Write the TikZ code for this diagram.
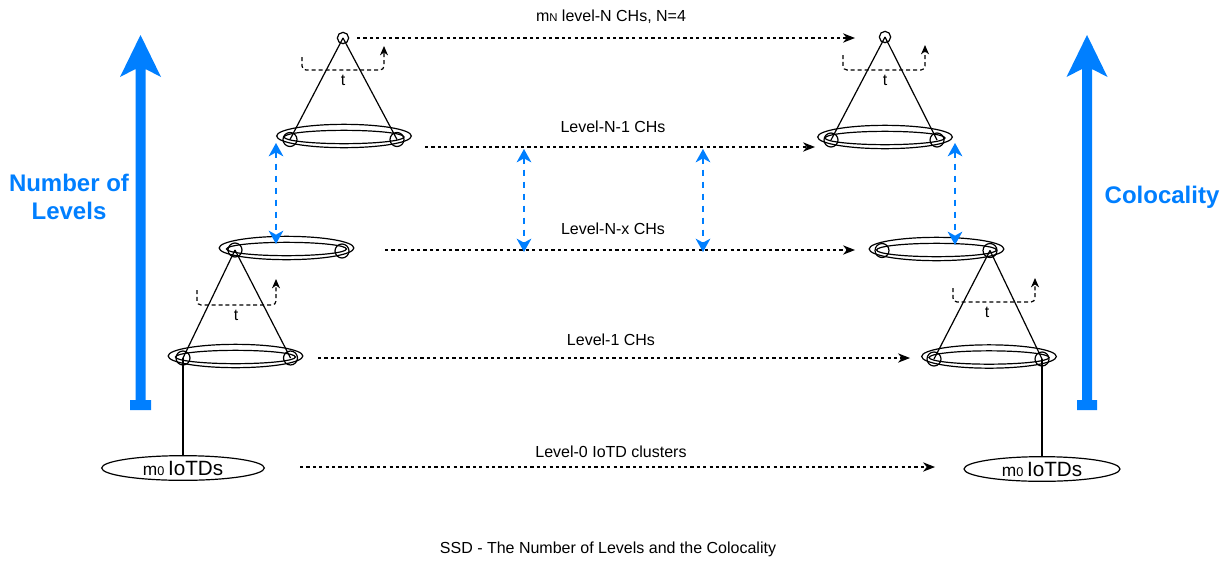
\documentclass[tikz,border=0pt]{standalone}
\usepackage{fontspec}
\setmainfont{Liberation Sans}
\usetikzlibrary{arrows.meta,shapes.geometric}
\definecolor{azure}{HTML}{007FFF}

\begin{document}
\begin{tikzpicture}[x=0.75pt,y=-0.75pt,
  lbl/.style={font=\fontsize{12}{14}\selectfont, inner sep=0pt},
  side/.style={font=\fontsize{18}{21}\selectfont\bfseries, text=azure, align=center, inner sep=0pt},
  dot/.style={circle,draw,line width=0.9pt,minimum size=8.5pt,inner sep=0pt},
  knot/.style={circle,draw,line width=0.9pt,minimum size=10.5pt,inner sep=0pt},
  ring/.style={ellipse,draw,line width=0.9pt,minimum width=101pt,minimum height=17.5pt,inner sep=0pt},
  inring/.style={ellipse,draw,line width=0.9pt,minimum width=90pt,minimum height=10pt,inner sep=0pt},
  pool/.style={ellipse,draw,line width=0.9pt,minimum height=18.5pt,inner sep=0pt},
  spoke/.style={line width=0.9pt},
  flow/.style={line width=0.9pt,dash pattern=on 2.4pt off 2.4pt,-{Stealth[length=9pt,width=7pt,inset=2.8pt]}},
  tloop/.style={line width=0.9pt,dash pattern=on 3pt off 2.2pt,rounded corners=3pt,-{Stealth[length=7pt,width=6pt,inset=2.2pt]}},
  link/.style={azure,line width=1.5pt,dash pattern=on 4.5pt off 4.5pt,{Stealth[length=10pt,width=11pt,inset=3pt]}-{Stealth[length=10pt,width=11pt,inset=3pt]}},
]
\fill[white] (0,0) rectangle (1230,561);
\useasboundingbox (0,0) rectangle (1230,561);

% ---------- big side arrows ----------
\fill[azure] (140.5,35) -- (161,77) -- (145.5,69) -- (145.5,400) -- (151,400) -- (151,410)
  -- (130,410) -- (130,400) -- (135.5,400) -- (135.5,69) -- (120,77) -- cycle;
\fill[azure] (1087,35) -- (1107.5,77) -- (1092,69) -- (1092,400) -- (1097,400) -- (1097,410)
  -- (1077,410) -- (1077,400) -- (1082,400) -- (1082,69) -- (1066.5,77) -- cycle;
\node[side] (levels) at (69,197) {Number of\\Levels};
\node[side] (coloc) at (1162,197) {Colocality};

% ---------- left column ----------
\node[ring]   (rL1) at (344,136) {};
\node[inring] (iL1) at (344,137) {};
\node[knot]   (kL1a) at (290,139.5) {};
\node[knot]   (kL1b) at (397,139.5) {};
\node[dot]    (aL)   at (343,38) {};
\draw[spoke] (aL.center) -- (kL1a.center);
\draw[spoke] (aL.center) -- (kL1b.center);

\node[ring]   (rLx) at (286.5,248) {};
\node[inring] (iLx) at (286.5,249) {};
\node[knot]   (kLxa) at (235,250) {};
\node[knot]   (kLxb) at (342,251) {};

\node[ring]   (rLa) at (235.5,356) {};
\node[inring] (iLa) at (235.5,357) {};
\node[knot]   (kLaa) at (183,358) {};
\node[knot]   (kLab) at (290.5,358) {};
\draw[spoke] (kLxa.center) -- (kLaa.center);
\draw[spoke] (kLxa.center) -- (kLab.center);

\node[pool, minimum width=122pt] (poolL) at (183,468)
  {{\fontsize{13}{14}\selectfont m\fontsize{9.5}{10}\selectfont 0} {\fontsize{15.5}{17}\selectfont IoTDs}};
\draw[spoke] (kLaa.center) -- (kLaa.center |- poolL.north);

% ---------- right column ----------
\node[ring]   (rR1) at (885,137) {};
\node[inring] (iR1) at (885,138) {};
\node[knot]   (kR1a) at (831,140) {};
\node[knot]   (kR1b) at (937,140) {};
\node[dot]    (aR)   at (885,37) {};
\draw[spoke] (aR.center) -- (kR1a.center);
\draw[spoke] (aR.center) -- (kR1b.center);

\node[ring]   (rRx) at (936.5,249) {};
\node[inring] (iRx) at (936.5,250) {};
\node[knot]   (kRxa) at (882,250.5) {};
\node[knot]   (kRxb) at (990,250.5) {};

\node[ring]   (rRa) at (989,356.5) {};
\node[inring] (iRa) at (989,357.5) {};
\node[knot]   (kRaa) at (934,359) {};
\node[knot]   (kRab) at (1042,359) {};
\draw[spoke] (kRxb.center) -- (kRaa.center);
\draw[spoke] (kRxb.center) -- (kRab.center);

\node[pool, minimum width=117pt] (poolR) at (1042,469)
  {{\fontsize{13}{14}\selectfont m\fontsize{9.5}{10}\selectfont 0} {\fontsize{15.5}{17}\selectfont IoTDs}};
\draw[spoke] (kRab.center) -- (kRab.center |- poolR.north);

% ---------- rotation loops ----------
\coordinate (tLs) at (302,57);  \coordinate (tLe) at (384,46);
\draw[tloop] (tLs) -- (302,70) -- (384,70) -- (tLe);
\node[lbl] (tL) at (343,80) {t};
\coordinate (tRs) at (843,55);  \coordinate (tRe) at (925,45);
\draw[tloop] (tRs) -- (843,70) -- (925,70) -- (tRe);
\node[lbl] (tR) at (885,80) {t};
\coordinate (uLs) at (197,290); \coordinate (uLe) at (276,279);
\draw[tloop] (uLs) -- (197,305) -- (276,305) -- (uLe);
\node[lbl] (uL) at (236,315) {t};
\coordinate (uRs) at (953,288); \coordinate (uRe) at (1035,278);
\draw[tloop] (uRs) -- (953,302) -- (1035,302) -- (uRe);
\node[lbl] (uR) at (987,312) {t};

% ---------- level flows ----------
\coordinate (fNs) at (357,38);   \coordinate (fNe) at (855,38);
\draw[flow] (fNs) -- (fNe);
\node[lbl] (capN) at (611,17) {m{\fontsize{8.5}{10}\selectfont N} level-N CHs, N=4};

\coordinate (fN1s) at (425,147); \coordinate (fN1e) at (815,147);
\draw[flow] (fN1s) -- (fN1e);
\node[lbl] (capN1) at (613,127) {Level-N-1 CHs};

\coordinate (fNxs) at (385,250); \coordinate (fNxe) at (855,250);
\draw[flow] (fNxs) -- (fNxe);
\node[lbl] (capNx) at (613,229) {Level-N-x CHs};

\coordinate (f1s) at (318,358);  \coordinate (f1e) at (910,358);
\draw[flow] (f1s) -- (f1e);
\node[lbl] (cap1) at (611,340) {Level-1 CHs};

\coordinate (f0s) at (300,467);  \coordinate (f0e) at (935,467);
\draw[flow] (f0s) -- (f0e);
\node[lbl] (cap0) at (611,452) {Level-0 IoTD clusters};

% ---------- vertical links between levels ----------
\coordinate (vAt) at (276,143); \coordinate (vAb) at (276,244);
\draw[link] (vAt) -- (vAb);
\coordinate (vBt) at (524,149); \coordinate (vBb) at (524,252);
\draw[link] (vBt) -- (vBb);
\coordinate (vCt) at (703,149); \coordinate (vCb) at (703,252);
\draw[link] (vCt) -- (vCb);
\coordinate (vDt) at (955,143); \coordinate (vDb) at (955,245);
\draw[link] (vDt) -- (vDb);

% ---------- caption ----------
\node[lbl] (title) at (608,549) {SSD - The Number of Levels and the Colocality};
\end{tikzpicture}
\end{document}
